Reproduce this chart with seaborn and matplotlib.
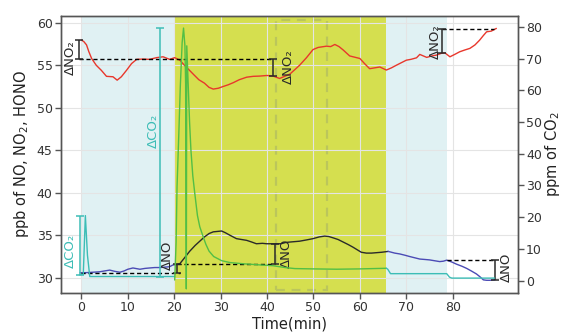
import numpy as np
import pandas as pd
import matplotlib
matplotlib.use("Agg")
import matplotlib.pyplot as plt
import seaborn as sns
from matplotlib.patches import Rectangle

# ---------------- data ----------------
# NO2 (ppb, left axis)
no2_t = [0, 0.5, 1.1, 1.6, 2.2, 3.2, 4.3, 5.4, 6.8, 7.7, 8.6, 9.7, 10.8, 11.9, 13.3, 14.7,
         16.2, 17.6, 19.0, 20.1, 21.2, 22.2, 23.3, 24.2, 25.3, 26.5, 27.5, 28.4, 29.5, 30.5,
         31.6, 32.7, 34.0, 35.6, 37.0, 38.4, 40.0, 41.3, 42.7, 44.9, 46.0, 47.0, 48.5, 49.9,
         51.0, 52.8, 53.7, 54.6, 55.5, 56.4, 57.8, 60.0, 61.0, 62.1, 63.2, 64.3, 65.7, 66.8,
         67.9, 70.0, 71.0, 72.2, 72.9, 74.4, 75.5, 76.5, 77.5, 78.3, 79.4, 80.5, 81.5, 82.6,
         83.7, 84.8, 85.8, 86.6, 87.3, 88.3, 89.4]
no2_v = [57.96, 57.8, 57.4, 56.6, 55.8, 55.0, 54.4, 53.7, 53.65, 53.25, 53.65, 54.4, 55.2, 55.7,
         55.73, 55.7, 55.9, 56.0, 55.7, 55.9, 55.6, 55.0, 54.4, 53.9, 53.3, 52.9, 52.4, 52.2,
         52.3, 52.5, 52.7, 52.95, 53.3, 53.6, 53.7, 53.73, 53.8, 53.73, 53.45, 53.96, 54.5,
         55.0, 55.9, 56.85, 57.1, 57.25, 57.2, 57.45, 57.2, 56.8, 56.1, 55.8, 55.2, 54.6, 54.7,
         54.8, 54.44, 54.7, 55.02, 55.6, 55.7, 55.88, 56.28, 55.93, 56.1, 56.2, 56.4, 56.47,
         56.0, 56.3, 56.59, 56.8, 56.99, 57.4, 57.96, 58.5, 58.94, 59.02, 59.34]

# NO (ppb, left axis): before, during and after the irradiation period
no_pre_t = [-0.3, 1.0, 2.5, 3.9, 5.0, 6.1, 7.2, 8.3, 9.2, 10.0, 11.1, 12.6, 13.7, 14.7, 15.8,
            16.9, 18.0, 19.0, 19.7, 20.5]
no_pre_v = [30.58, 30.6, 30.65, 30.7, 30.8, 30.9, 30.75, 30.65, 30.8, 31.0, 31.15, 31.0, 31.1,
            31.15, 31.2, 31.2, 31.25, 31.3, 31.5, 31.55]
no_mid_t = [20.5, 21.2, 22.3, 23.3, 24.5, 25.5, 26.5, 27.5, 28.4, 29.3, 30.2, 31.0, 32.0, 33.4,
            34.5, 35.6, 36.7, 37.7, 39.0, 39.9, 41.0, 42.0, 43.0, 44.0, 44.9, 47.0, 48.5, 49.9,
            51.2, 52.4, 53.3, 54.2, 55.3, 56.4, 57.5, 58.5, 59.4, 60.3, 61.4, 62.5, 63.6, 64.7,
            66.1]
no_mid_v = [31.55, 31.65, 32.4, 33.1, 33.8, 34.3, 34.8, 35.2, 35.4, 35.45, 35.5, 35.3, 35.0,
            34.6, 34.5, 34.4, 34.2, 34.0, 34.05, 34.0, 34.0, 34.0, 34.0, 34.15, 34.2, 34.3,
            34.45, 34.6, 34.8, 34.9, 34.85, 34.7, 34.5, 34.2, 33.9, 33.6, 33.3, 33.0, 32.9,
            32.9, 32.95, 33.0, 33.1]
no_post_t = [66.1, 67.5, 68.6, 69.7, 70.7, 71.8, 72.9, 74.0, 75.0, 76.1, 77.2, 78.0, 78.7, 79.8,
             80.8, 82.0, 83.0, 84.0, 85.1, 85.9, 86.6, 87.3, 88.0, 89.1]
no_post_v = [33.1, 32.9, 32.8, 32.65, 32.5, 32.35, 32.2, 32.15, 32.1, 32.0, 31.9, 31.95, 32.07,
             31.85, 31.6, 31.35, 31.1, 30.8, 30.45, 30.1, 29.75, 29.7, 29.7, 29.75]

# CO2 (ppm, right axis)
co2_pre_t = [-0.4, 0.4, 0.85, 1.3, 1.8, 5.0, 10.0, 15.0, 20.1]
co2_pre_v = [1.8, 2.0, 20.5, 8.0, 1.3, 1.3, 1.3, 1.3, 1.3]
co2_mid_t = [20.1, 20.4, 20.6, 21.0, 21.3, 21.7, 22.0, 22.3, 22.45, 22.6, 22.7, 23.0, 23.3,
             23.6, 24.0, 24.4, 25.0, 25.5, 26.1, 26.8, 27.5, 28.5, 30.2, 32.0, 35.0, 38.0,
             41.3, 44.0, 46.0, 50.0, 55.0, 60.0, 65.7]
co2_mid_v = [0.2, 12.0, 29.5, 47.0, 61.0, 75.0, 79.6, 74.0, 62.0, -2.6, 74.0, 62.0, 50.0,
             41.0, 33.0, 27.8, 20.5, 17.0, 14.4, 11.5, 9.3, 7.6, 6.3, 5.7, 5.3, 5.0, 4.7, 4.1,
             3.8, 3.7, 3.6, 3.7, 3.9]
co2_post_t = [65.7, 66.0, 66.6, 70.0, 75.0, 78.7, 79.3, 79.8, 85.0, 89.0]
co2_post_v = [3.9, 3.6, 2.2, 2.2, 2.2, 2.2, 1.1, 0.8, 0.8, 0.8]

# change markers: time, lower level, upper level
dno2_t, dno2_lo, dno2_hi = [-0.6, 41.3, 77.7], [55.73, 53.73, 56.4], [57.96, 55.73, 59.22]
dno_t, dno_lo, dno_hi = [20.7, 41.7, 89.1], [30.5, 31.6, 29.7], [31.6, 34.0, 32.07]
dco2_t, dco2_lo, dco2_hi = [-0.4, 16.9], [1.8, 1.3], [20.5, 79.6]

# reference levels: start, end, level
no2_ref = [(-0.6, 41.3, 55.73), (77.7, 89.0, 59.22)]
no_ref = [(0.0, 21.2, 30.5), (20.7, 41.7, 31.6), (78.7, 89.1, 32.07)]

# experiment phases
phase_edges = [0, 20, 65.7, 78.7]
box_range = (42.0, 53.0)

# ---------------- style ----------------
sns.set_theme(style="whitegrid")
plt.rcParams['font.family'] = ['DejaVu Sans']

RED = '#e8372c'
BLUE = '#4b4bb5'
DARK = '#2a2a2a'
CYAN = '#3dbdb6'
GREEN = '#52bf45'
LIGHT = '#e0f1f3'
YELLOW = '#d5df4f'
SPINE = '#555555'

fig, ax = plt.subplots(figsize=(5.64, 3.32), dpi=100)
fig.subplots_adjust(left=61 / 564, right=517.7 / 564, bottom=1 - 292.7 / 332, top=1 - 16 / 332)

ax.set_xlim(-4.4, 94)
ax.set_ylim(28.24, 60.8)
ax.set_axisbelow('line')
ax.grid(True, color='#e4e4e4', lw=0.8)

# phase shading
ax.axvspan(phase_edges[0], phase_edges[1], color=LIGHT, lw=0, zorder=0.2)
ax.axvspan(phase_edges[1], phase_edges[2], color=YELLOW, lw=0, zorder=0.2)
ax.axvspan(phase_edges[2], phase_edges[3], color=LIGHT, lw=0, zorder=0.2)
ax.add_patch(Rectangle((box_range[0], 0.01), box_range[1] - box_range[0], 0.975,
                       transform=ax.get_xaxis_transform(), fill=False,
                       edgecolor=(0.55, 0.6, 0.45, 0.35), ls=(0, (4, 3)), lw=1.6, zorder=1))

lw = 1.0
sns.lineplot(x=no2_t, y=no2_v, ax=ax, color=RED, lw=lw, estimator=None, sort=False)
sns.lineplot(x=no_pre_t, y=no_pre_v, ax=ax, color=BLUE, lw=lw, estimator=None, sort=False)
sns.lineplot(x=no_mid_t, y=no_mid_v, ax=ax, color=DARK, lw=lw, estimator=None, sort=False)
sns.lineplot(x=no_post_t, y=no_post_v, ax=ax, color=BLUE, lw=lw, estimator=None, sort=False)

dash = (0, (3, 2))
for x0, x1, y in no2_ref + no_ref:
    ax.plot([x0, x1], [y, y], color='black', ls=dash, lw=1.0, zorder=3)

for t, lo, hi in zip(dno2_t, dno2_lo, dno2_hi):
    ax.errorbar(t, (lo + hi) / 2, yerr=(hi - lo) / 2, fmt='none', ecolor=DARK,
                elinewidth=1.1, capsize=3, capthick=1.1, zorder=4)
for t, lo, hi in zip(dno_t, dno_lo, dno_hi):
    ax.errorbar(t, (lo + hi) / 2, yerr=(hi - lo) / 2, fmt='none', ecolor=DARK,
                elinewidth=1.1, capsize=3, capthick=1.1, zorder=4)

lab = dict(rotation=90, ha='center', va='center', fontsize=9.5, color=DARK)
ax.text(-2.3, 55.96, 'ΔNO₂', **lab)
ax.text(44.5, 54.79, 'ΔNO₂', **lab)
ax.text(76.25, 57.79, 'ΔNO₂', **lab)
ax.text(18.6, 32.67, 'ΔNO', **lab)
ax.text(44.2, 32.9, 'ΔNO', **lab)
ax.text(91.55, 31.26, 'ΔNO', **lab)

ax.set_xticks(np.arange(0, 81, 10))
ax.set_yticks(np.arange(30, 61, 5))
ax.set_xlabel('Time(min)', fontsize=10.5, color='#222222', labelpad=2)
ax.set_ylabel(r'ppb of NO, NO$_2$, HONO', fontsize=10.5, color='#222222')

# CO2 on the right axis
ax2 = ax.twinx()
ax2.set_ylim(-3.8, 83.4)
ax2.grid(False)
sns.lineplot(x=co2_pre_t, y=co2_pre_v, ax=ax2, color=CYAN, lw=lw, estimator=None, sort=False)
sns.lineplot(x=co2_mid_t, y=co2_mid_v, ax=ax2, color=GREEN, lw=lw, estimator=None, sort=False)
sns.lineplot(x=co2_post_t, y=co2_post_v, ax=ax2, color=CYAN, lw=lw, estimator=None, sort=False)
for t, lo, hi in zip(dco2_t, dco2_lo, dco2_hi):
    ax2.errorbar(t, (lo + hi) / 2, yerr=(hi - lo) / 2, fmt='none', ecolor=CYAN,
                 elinewidth=1.1, capsize=3, capthick=1.1, zorder=4)
lab2 = dict(lab, color=CYAN)
ax2.text(-2.3, 9.4, 'ΔCO₂', **lab2)
ax2.text(15.4, 47.2, 'ΔCO₂', **lab2)
ax2.set_yticks(np.arange(0, 81, 10))
ax2.set_ylabel(r'ppm of CO$_2$', fontsize=10.5, color='#222222', labelpad=1)

for a in (ax, ax2):
    a.tick_params(axis='both', which='major', length=4, width=1, color=SPINE,
                  labelsize=9, labelcolor='#333333', pad=2)
    for s in a.spines.values():
        s.set_color(SPINE)
        s.set_linewidth(1.0)
ax.tick_params(bottom=True, left=True)
ax2.tick_params(right=True)

fig.savefig('out.png', dpi=100)
